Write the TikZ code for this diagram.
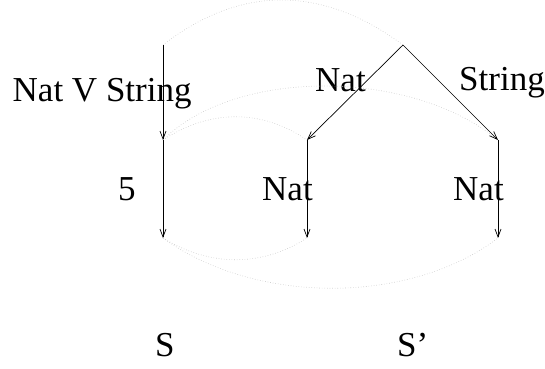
\documentclass[tikz,border=0pt]{standalone}
\usepackage{fontspec}
\setmainfont{Liberation Serif}
\usetikzlibrary{arrows.meta}
\begin{document}
\begin{tikzpicture}[x=1pt,y=-1pt,
  lbl/.style={anchor=base west,inner sep=0pt,font=\fontsize{35}{40}\selectfont},
  arr/.style={line width=0.7pt,-{Straight Barb[length=8pt,width=6pt]}},
  corr/.style={dotted,line width=0.6pt,black!22}]
\useasboundingbox (0,0) rectangle (545,368);
% points
\coordinate (L0) at (163,45);
\coordinate (L1) at (163,140);
\coordinate (L2) at (163,238);
\coordinate (R0) at (403,45);
\coordinate (A1) at (307,140);
\coordinate (B1) at (498,140);
\coordinate (A2) at (307,238);
\coordinate (B2) at (498,238);
% labels
\node[lbl] (t1) at (12.5,101.7) {Nat V String};
\node[lbl] (t2) at (118,200) {5};
\node[lbl] (t3) at (315,91.7) {Nat};
\node[lbl] (t4) at (459,90.7) {String};
\node[lbl] (t5) at (262,200) {Nat};
\node[lbl] (t6) at (453,200) {Nat};
\node[lbl] (t7) at (155,356.7) {S};
\node[lbl] (t8) at (397,356.7) {S’};
% correspondences
\draw[corr] (L0) .. controls (240,-15) and (322,-15) .. (R0);
\draw[corr] (L1) .. controls (210,109) and (262,109) .. (A1);
\draw[corr] (L1) .. controls (235,68) and (410,68) .. (B1);
\draw[corr] (L2) .. controls (210,267) and (262,267) .. (A2);
\draw[corr] (L2) .. controls (255,305) and (410,305) .. (B2);
% arrows
\draw[arr] (L0) -- (L1);
\draw[arr] (L1) -- (L2);
\draw[arr] (R0) -- (A1);
\draw[arr] (R0) -- (B1);
\draw[arr] (A1) -- (A2);
\draw[arr] (B1) -- (B2);
\end{tikzpicture}
\end{document}
